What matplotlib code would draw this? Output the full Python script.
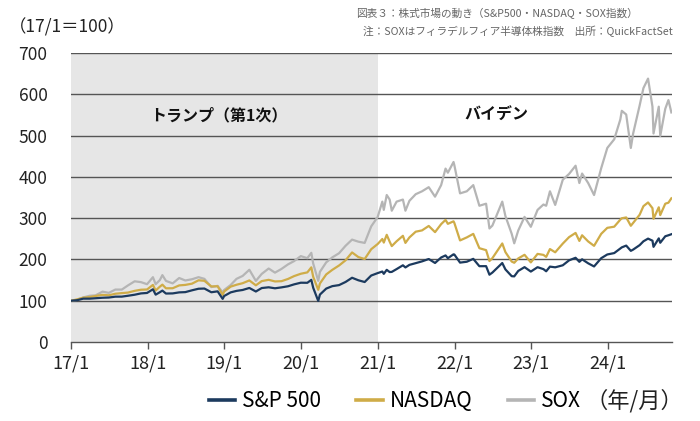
import matplotlib
matplotlib.use("Agg")
import matplotlib.pyplot as plt
import pandas as pd

plt.rcParams['font.family'] = ['Noto Sans CJK JP', 'DejaVu Sans']

dates = [
    "2017-01-03", "2017-01-31", "2017-02-28", "2017-03-31", "2017-04-28", "2017-05-31",
    "2017-06-30", "2017-07-31", "2017-08-31", "2017-09-29", "2017-10-31", "2017-11-30",
    "2017-12-29",
    "2018-01-26", "2018-02-08", "2018-02-28", "2018-03-12", "2018-03-29", "2018-04-30",
    "2018-05-31", "2018-06-29", "2018-07-31", "2018-08-31", "2018-09-28", "2018-10-31",
    "2018-11-30", "2018-12-24", "2018-12-31",
    "2019-01-31", "2019-02-28", "2019-03-29", "2019-04-30", "2019-05-31", "2019-06-28",
    "2019-07-31", "2019-08-30", "2019-09-30", "2019-10-31", "2019-11-29", "2019-12-31",
    "2020-01-31", "2020-02-19", "2020-02-28", "2020-03-23", "2020-03-31", "2020-04-30",
    "2020-05-29", "2020-06-30", "2020-07-31", "2020-08-31", "2020-09-30", "2020-10-30",
    "2020-11-30", "2020-12-31",
    "2021-01-22", "2021-01-29", "2021-02-12", "2021-02-26", "2021-03-08", "2021-03-31",
    "2021-04-30", "2021-05-12", "2021-05-31", "2021-06-30", "2021-07-30", "2021-08-31",
    "2021-09-30", "2021-10-29", "2021-11-19", "2021-11-30", "2021-12-27", "2021-12-31",
    "2022-01-27", "2022-02-28", "2022-03-31", "2022-04-29", "2022-05-31", "2022-06-16",
    "2022-06-30", "2022-08-16", "2022-08-31", "2022-09-30", "2022-10-12", "2022-10-31",
    "2022-11-30", "2022-12-30",
    "2023-01-31", "2023-02-28", "2023-03-13", "2023-03-31", "2023-04-25", "2023-05-31",
    "2023-06-30", "2023-07-31", "2023-08-18", "2023-08-31", "2023-09-29", "2023-10-27",
    "2023-11-30", "2023-12-29",
    "2024-01-31", "2024-02-29", "2024-03-07", "2024-03-28", "2024-04-19", "2024-04-30",
    "2024-05-31", "2024-06-18", "2024-07-10", "2024-07-31", "2024-08-05", "2024-08-30",
    "2024-09-06", "2024-09-30", "2024-10-15", "2024-10-29",
]

sp500 = [
    100, 101.3, 105.0, 105.0, 106.0, 107.2, 107.7, 109.8, 109.9, 112.0, 114.5, 117.7, 118.8,
    127.7, 114.7, 120.6, 124.5, 117.4, 117.7, 120.2, 120.8, 125.2, 129.0, 129.5, 120.5,
    122.7, 104.5, 111.4,
    120.2, 123.8, 126.0, 130.9, 122.3, 130.7, 132.5, 130.1, 132.3, 135.0, 139.6, 143.6,
    143.4, 150.5, 131.3, 99.4, 114.9, 129.4, 135.3, 137.8, 145.4, 155.6, 149.5, 145.3,
    161.0, 166.9,
    170.7, 165.1, 174.8, 169.4, 169.8, 176.6, 185.8, 180.6, 186.8, 191.0, 195.3, 201.0,
    191.4, 204.7, 209.7, 203.0, 212.4, 211.8,
    192.3, 194.4, 201.4, 183.6, 183.7, 163.0, 168.2, 191.3, 175.8, 159.4, 159.0, 172.1,
    181.3, 170.6,
    181.2, 176.5, 171.3, 182.6, 180.9, 185.8, 197.8, 204.0, 194.2, 200.3, 190.6, 183.0,
    203.0, 212.0,
    215.4, 226.5, 229.2, 233.5, 220.8, 223.8, 234.6, 243.9, 250.4, 245.4, 230.5, 251.0,
    240.4, 256.1, 258.5, 261.0,
]

nasdaq = [
    100, 103.4, 107.3, 108.9, 111.4, 114.2, 113.1, 116.9, 118.4, 119.7, 123.9, 126.6, 127.2,
    138.3, 124.8, 134.0, 138.9, 130.1, 130.2, 137.1, 138.3, 141.3, 149.4, 148.2, 134.6,
    135.0, 114.1, 122.2,
    134.1, 138.7, 142.4, 149.1, 137.3, 147.5, 150.6, 146.7, 147.3, 152.7, 159.6, 165.3,
    168.6, 180.8, 157.8, 126.4, 141.8, 163.7, 174.8, 185.3, 197.9, 216.9, 205.7, 201.0,
    224.7, 237.4,
    249.5, 240.8, 259.6, 243.0, 232.3, 244.0, 257.2, 240.0, 253.3, 267.2, 270.3, 281.1,
    266.1, 285.5, 295.8, 286.2, 292.3, 288.2,
    246.0, 253.3, 261.9, 227.2, 222.5, 196.1, 203.1, 238.7, 217.7, 194.8, 191.9, 202.4,
    211.2, 192.8,
    213.4, 211.0, 206.1, 225.1, 217.3, 238.3, 254.0, 264.2, 244.8, 258.5, 243.5, 232.9,
    262.0, 276.5,
    279.3, 296.4, 299.7, 301.7, 281.5, 288.4, 308.3, 329.0, 338.0, 324.2, 298.4, 326.3,
    307.4, 335.0, 337.4, 348.0,
]

sox = [
    100, 102, 108, 112, 113, 122, 119, 127, 127, 137, 147, 145, 140,
    157, 140, 150, 162, 148, 142, 155, 149, 152, 157, 153, 133,
    136, 120, 126,
    138, 153, 160, 175, 148, 165, 178, 168, 177, 188, 196, 208,
    203, 216, 190, 148, 170, 193, 205, 215, 233, 248, 243, 240,
    280, 303,
    340, 320, 356, 345, 318, 340, 345, 318, 342, 358, 365, 375,
    352, 380, 420, 410, 436, 428,
    360, 365, 380, 330, 335, 275, 282, 340, 305, 262, 239, 270,
    303, 279,
    320, 333, 330, 365, 332, 393, 407, 427, 385, 408, 385, 356,
    421, 470,
    491, 539, 560, 551, 470, 505, 573, 615, 638, 570, 505, 570,
    499, 565, 586, 556,
]

year_ticks = ["2017-01-01", "2018-01-01", "2019-01-01", "2020-01-01", "2021-01-01",
              "2022-01-01", "2023-01-01", "2024-01-01"]
year_labels = ["17/1", "18/1", "19/1", "20/1", "21/1", "22/1", "23/1", "24/1"]
y_ticks = [0, 100, 200, 300, 400, 500, 600, 700]

series_names = ["S&P 500", "NASDAQ", "SOX"]
colors = ["#1c3a5e", "#cfac48", "#b5b5b5"]

x = pd.to_datetime(dates)

fig = plt.figure(figsize=(7.0, 4.21), dpi=100)
ax = fig.add_axes([71 / 700, 1 - 342 / 421, 601 / 700, 289 / 421])

ax.set_xlim(pd.Timestamp("2017-01-01"), pd.Timestamp("2024-11-01"))
ax.set_ylim(0, 700)

# shaded first-Trump period
ax.axvspan(pd.Timestamp("2017-01-01"), pd.Timestamp("2021-01-01"),
           color="#e6e6e6", zorder=0, lw=0)

for v in y_ticks[1:]:
    ax.axhline(v, color="#555555", lw=1.0, zorder=1)

handles = {}
for name, vals, c in [("SOX", sox, colors[2]), ("NASDAQ", nasdaq, colors[1]),
                      ("S&P 500", sp500, colors[0])]:
    h, = ax.plot(x, vals, color=c, lw=1.6, zorder=3, label=name)
    handles[name] = h

for s in ["top", "right", "left"]:
    ax.spines[s].set_visible(False)
ax.spines["bottom"].set_color("#555555")
ax.spines["bottom"].set_linewidth(1.0)

ax.set_xticks(pd.to_datetime(year_ticks))
ax.set_xticklabels(year_labels, fontsize=13)
ax.tick_params(axis="x", length=5, width=1, color="#555555", pad=4, labelcolor="#222222")
ax.set_yticks(y_ticks)
ax.set_yticklabels([str(v) for v in y_ticks], fontsize=12.5)
ax.tick_params(axis="y", length=0, pad=17, labelcolor="#222222")

ax.text(pd.Timestamp("2018-12-05"), 550, "トランプ（第1次）", ha="center", va="center",
        fontsize=11.5, fontweight="bold", color="#111111", zorder=4)
ax.text(pd.Timestamp("2022-07-20"), 550, "バイデン", ha="center", va="center",
        fontsize=11.5, fontweight="bold", color="#111111", zorder=4)

fig.text(9 / 700, 1 - 27 / 421, "（17/1＝100）", ha="left", va="center",
         fontsize=12.5, color="#222222")

fig.text(356 / 700, 1 - 14 / 421, "図表３：株式市場の動き（S&P500・NASDAQ・SOX指数）",
         ha="left", va="center", fontsize=7.7, color="#666666")
fig.text(673 / 700, 1 - 31 / 421, "注：SOXはフィラデルフィア半導体株指数　出所：QuickFactSet",
         ha="right", va="center", fontsize=7.7, color="#666666")

leg = fig.legend([handles[n] for n in series_names], series_names,
                 loc="center", bbox_to_anchor=(395 / 700, 1 - 401 / 421), ncol=3,
                 frameon=False, fontsize=15, handlelength=1.25, handletextpad=0.35,
                 columnspacing=1.7)
for lh in leg.get_lines():
    lh.set_linewidth(2.6)
fig.text(634 / 700, 1 - 401 / 421, "（年/月）", ha="center", va="center",
         fontsize=16, color="#222222")

fig.savefig("out.png", dpi=100)
